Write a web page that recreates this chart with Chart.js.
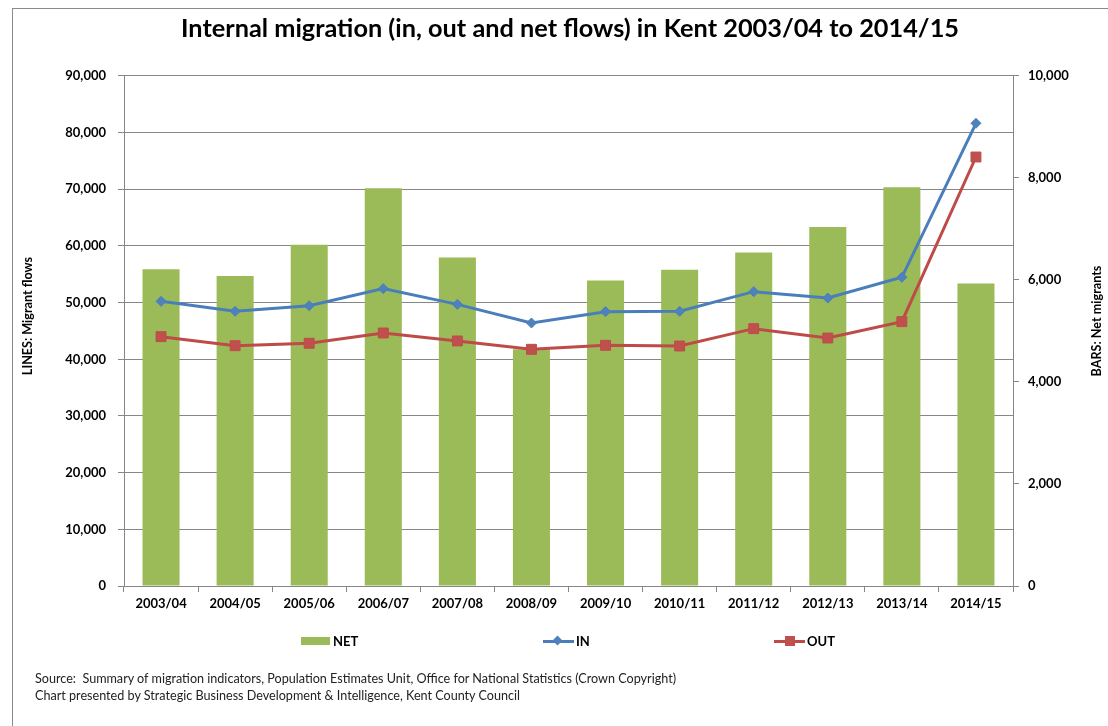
<!DOCTYPE html>
<html>
<head>
<meta charset="utf-8">
<title>Internal migration in Kent</title>
<script src="https://cdn.jsdelivr.net/npm/chart.js@4"></script>
<style>
  html, body { margin: 0; padding: 0; background: #fff; overflow: hidden; }
  body { width: 1108px; height: 726px; position: relative; font-family: Lato, "Liberation Sans", sans-serif; }
  #frame { position: absolute; left: 12px; top: 8px; width: 1200px; height: 800px; border: 1px solid #8a8a8a; }
  #wrap { position: absolute; left: 16px; top: 0; width: 1108px; height: 726px; }
  .leg { position: absolute; top: 632px; height: 18px; font: bold 13px Lato, sans-serif; color: #000; line-height: 18px; }
  .leg .box { position: absolute; left: 0; top: 5px; width: 29px; height: 8px; background: #9bbb59; }
  .leg .ln { position: absolute; left: 0; top: 8px; width: 31px; height: 3px; }
  .leg .mk { position: absolute; }
  .leg span.t { position: absolute; top: 0; white-space: nowrap; }
  #source { position: absolute; left: 35px; top: 670px; font: 12.6px Lato, sans-serif; line-height: 17px; color: #222; white-space: pre; }
</style>
</head>
<body>
<div id="frame"></div>
<div id="wrap"><canvas id="myChart" width="1108" height="726"></canvas></div>

<div class="leg" style="left:301px"><div class="box"></div><span class="t" style="left:32px">NET</span></div>
<div class="leg" style="left:543px">
  <div class="ln" style="background:#4a7ebb"></div>
  <div class="mk" style="left:11px;top:5px;width:7px;height:7px;background:#4f81bd;transform:rotate(45deg)"></div>
  <span class="t" style="left:33px">IN</span>
</div>
<div class="leg" style="left:774px">
  <div class="ln" style="background:#be4b48"></div>
  <div class="mk" style="left:11px;top:4px;width:10px;height:10px;background:#c0504d"></div>
  <span class="t" style="left:33px">OUT</span>
</div>

<div id="source">Source:  Summary of migration indicators, Population Estimates Unit, Office for National Statistics (Crown Copyright)
Chart presented by Strategic Business Development &amp; Intelligence, Kent County Council</div>

<script>
var years = ['2003/04', '2004/05', '2005/06', '2006/07', '2007/08', '2008/09',
             '2009/10', '2010/11', '2011/12', '2012/13', '2013/14', '2014/15'];
var netMigrants = [6210, 6080, 6690, 7800, 6440, 4640, 5990, 6200, 6540, 7040, 7820, 5930];
var inFlows = [50240, 48470, 49460, 52470, 49700, 46410, 48410, 48470, 51940, 50820, 54470, 81650];
var outFlows = [44000, 42400, 42830, 44650, 43240, 41770, 42470, 42350, 45410, 43760, 46650, 75700];

var gridGrey = '#868686';
var tickFont = { family: 'Lato', size: 13, weight: 'bold' };

// axis titles in Excel style (both read bottom to top)
var axisTitles = {
    id: 'axisTitles',
    afterDraw: function(chart) {
        var ctx = chart.ctx;
        ctx.save();
        ctx.font = 'bold 12.6px Lato';
        ctx.fillStyle = '#000';
        ctx.textAlign = 'center';
        ctx.textBaseline = 'middle';
        [['LINES: Migrant flows', 12, 316], ['BARS: Net migrants', 1081, 321]].forEach(function(t) {
            ctx.save();
            ctx.translate(t[1], t[2]);
            ctx.rotate(-Math.PI / 2);
            ctx.fillText(t[0], 0, 0);
            ctx.restore();
        });
        ctx.restore();
    }
};

var ctx = document.getElementById('myChart').getContext('2d');
var myChart = new Chart(ctx, {
    type: 'bar',
    data: {
        labels: years,
        datasets: [{
            type: 'line',
            label: 'IN',
            data: inFlows,
            yAxisID: 'y',
            borderColor: '#4a7ebb',
            backgroundColor: '#4f81bd',
            borderWidth: 3,
            pointStyle: 'rectRot',
            pointRadius: 5,
            pointBorderWidth: 1,
            tension: 0,
            order: 1
        },
        {
            type: 'line',
            label: 'OUT',
            data: outFlows,
            yAxisID: 'y',
            borderColor: '#be4b48',
            backgroundColor: '#c0504d',
            borderWidth: 3,
            pointStyle: 'rect',
            pointRadius: 7,
            pointBorderWidth: 1,
            tension: 0,
            order: 1
        },
        {
            label: 'NET',
            data: netMigrants,
            yAxisID: 'y1',
            backgroundColor: '#9bbb59',
            barPercentage: 1,
            categoryPercentage: 0.5,
            order: 2
        }]
    },
    plugins: [axisTitles],
    options: {
        responsive: false,
        animation: false,
        layout: {
            padding: { left: 0, right: 0, top: 0, bottom: 106 }
        },
        plugins: {
            title: {
                display: true,
                text: 'Internal migration (in, out and net flows) in Kent 2003/04 to 2014/15',
                color: '#000',
                font: { family: 'Lato', size: 25.3, weight: 'bold' },
                padding: { top: 14, bottom: 31.6 }
            },
            legend: { display: false },
            tooltip: { enabled: false }
        },
        scales: {
            x: {
                afterFit: function(scale) { scale.height = 34; },
                grid: {
                    display: true,
                    drawOnChartArea: false,
                    offset: true,
                    tickLength: 6,
                    color: gridGrey
                },
                border: { color: gridGrey },
                ticks: { color: '#000', font: tickFont, padding: 4, maxRotation: 0 }
            },
            y: {
                position: 'left',
                min: 0,
                max: 90000,
                afterFit: function(scale) { scale.width = 108; },
                grid: { color: gridGrey, tickLength: 6 },
                border: { color: gridGrey },
                ticks: {
                    stepSize: 10000,
                    color: '#000',
                    font: tickFont,
                    padding: 12,
                    callback: function(v) { return v.toLocaleString('en-GB'); }
                }
            },
            y1: {
                position: 'right',
                min: 0,
                max: 10000,
                afterFit: function(scale) { scale.width = 111; },
                grid: { drawOnChartArea: false, color: gridGrey, tickLength: 6 },
                border: { color: gridGrey },
                ticks: {
                    stepSize: 2000,
                    color: '#000',
                    font: tickFont,
                    padding: 9,
                    callback: function(v) { return v.toLocaleString('en-GB'); }
                }
            }
        }
    }
});
</script>
</body>
</html>
